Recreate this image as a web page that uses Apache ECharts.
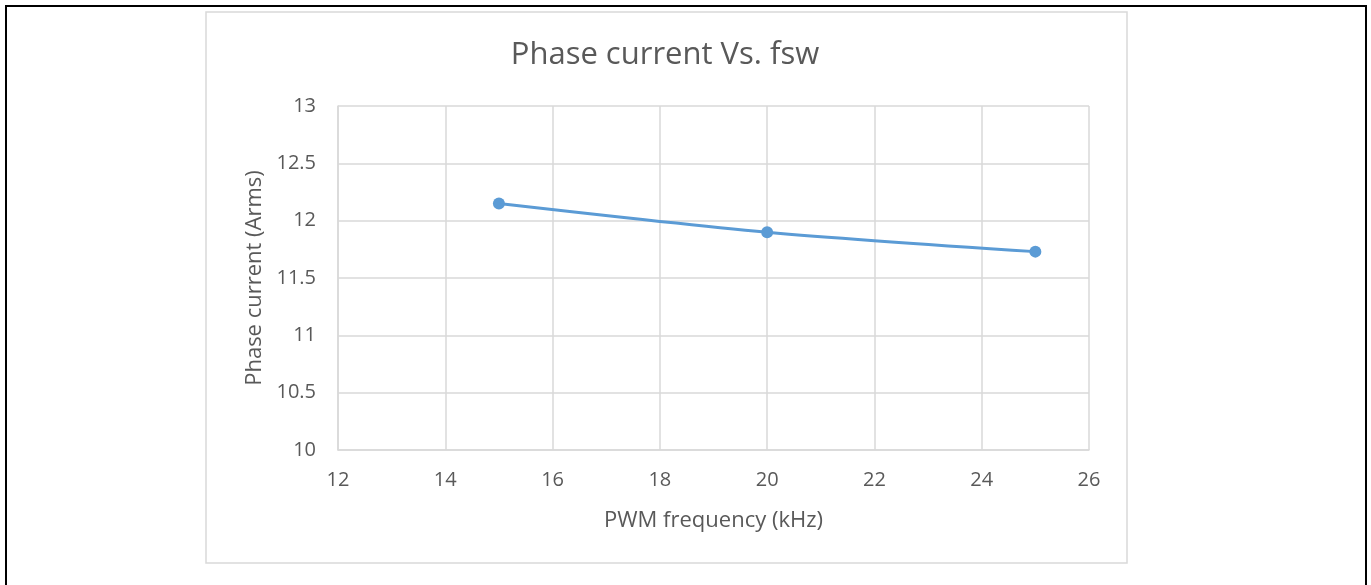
<!DOCTYPE html>
<html>
<head>
<meta charset="utf-8">
<script src="https://cdn.jsdelivr.net/npm/echarts@6/dist/echarts.min.js"></script>
<style>
html,body{margin:0;padding:0;background:#fff;}
#c{width:1371px;height:585px;}
</style>
</head>
<body>
<div id="c"></div>
<script>
const titleText = "Phase current Vs. fsw";
const xAxisName = "PWM frequency (kHz)";
const yAxisName = "Phase current (Arms)";
const freqKHz = [15, 20, 25];
const phaseCurrent = [12.15, 11.9, 11.73];

const chart = echarts.init(document.getElementById('c'), null, {renderer: 'canvas'});
const txt = '#595959';
const font = '"Open Sans", Lato, sans-serif';
chart.setOption({
  animation: false,
  backgroundColor: '#fff',
  graphic: [
    {type: 'rect', shape: {x: 6, y: 6, width: 1360, height: 600}, style: {fill: 'none', stroke: '#000', lineWidth: 2}, silent: true},
    {type: 'rect', shape: {x: 206, y: 12, width: 921, height: 551}, style: {fill: 'none', stroke: '#d9d9d9', lineWidth: 1.5}, silent: true}
  ],
  title: {
    text: titleText, left: 660, top: 35, textAlign: 'center',
    textStyle: {color: txt, fontFamily: font, fontSize: 31, fontWeight: 'normal'}
  },
  grid: {left: 338, top: 106, right: 282, bottom: 135, containLabel: false},
  xAxis: {
    type: 'value', min: 12, max: 26, interval: 2,
    name: xAxisName, nameLocation: 'middle', nameGap: 60,
    nameTextStyle: {color: txt, fontFamily: font, fontSize: 22},
    axisLine: {show: true, lineStyle: {color: '#d9d9d9', width: 1.5}},
    axisTick: {show: false},
    axisLabel: {color: txt, fontFamily: font, fontSize: 20, margin: 20},
    splitLine: {show: true, lineStyle: {color: '#d9d9d9', width: 1.5}}
  },
  yAxis: {
    type: 'value', min: 10, max: 13, interval: 0.5,
    name: yAxisName, nameLocation: 'middle', nameGap: 72, nameRotate: 90,
    nameTextStyle: {color: txt, fontFamily: font, fontSize: 22},
    axisLine: {show: true, lineStyle: {color: '#d9d9d9', width: 1.5}},
    axisTick: {show: false},
    axisLabel: {color: txt, fontFamily: font, fontSize: 20, margin: 22},
    splitLine: {show: true, lineStyle: {color: '#d9d9d9', width: 1.5}}
  },
  series: [{
    type: 'line',
    data: freqKHz.map((f, i) => [f, phaseCurrent[i]]),
    smooth: 0.3,
    symbol: 'circle', symbolSize: 12,
    lineStyle: {color: '#5b9bd5', width: 3},
    itemStyle: {color: '#5b9bd5'}
  }]
});
</script>
</body>
</html>
